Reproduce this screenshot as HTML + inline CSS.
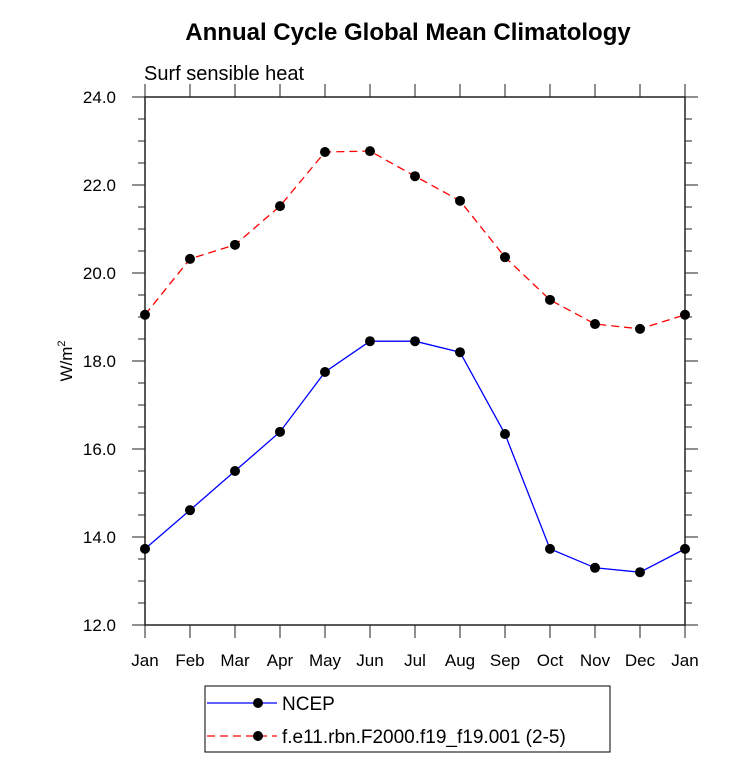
<!DOCTYPE html>
<html><head><meta charset="utf-8"><style>
body{margin:0;background:#fff;}
svg text{font-family:"Liberation Sans",sans-serif;}
</style></head><body>
<svg width="733" height="777" id="c">
<text x="408" y="40" text-anchor="middle" font-size="24" font-weight="bold">Annual Cycle Global Mean Climatology</text>
<text x="144" y="80" font-size="20">Surf sensible heat</text>
<text transform="translate(72,361) rotate(-90)" text-anchor="middle" font-size="17">W/m<tspan font-size="11" dy="-7">2</tspan></text>
<rect x="145" y="97" width="540" height="528" fill="none" stroke="#222" stroke-width="1.5"/>
<g id="axes"></g><g id="series"></g>
<rect x="205" y="686" width="405" height="66" fill="none" stroke="#000"/>
<g>
<line x1="207" y1="703" x2="277" y2="703" stroke="#00f" stroke-width="1.3"/>
<circle cx="258" cy="703" r="5" fill="#000"/>
<text x="282" y="710" font-size="19">NCEP</text></g>
<g>
<line x1="207" y1="736" x2="277" y2="736" stroke="#f00" stroke-width="1.3" stroke-dasharray="8,5"/>
<circle cx="258" cy="736" r="5" fill="#000"/>
<text x="282" y="743" font-size="19">f.e11.rbn.F2000.f19_f19.001 (2-5)</text></g>
</svg>
<script>
const months=["Jan","Feb","Mar","Apr","May","Jun","Jul","Aug","Sep","Oct","Nov","Dec","Jan"];
const yTicks=[12,14,16,18,20,22,24];
const ncep=[13.73,14.61,15.5,16.39,17.75,18.45,18.45,18.2,16.34,13.73,13.3,13.2,13.73];
const model=[19.05,20.32,20.64,21.52,22.75,22.77,22.2,21.64,20.36,19.39,18.84,18.73,19.05];
const NS="http://www.w3.org/2000/svg";
const X=i=>145+i*45, Y=v=>625-(v-12)*44;
const ax=document.getElementById('axes'), se=document.getElementById('series');
function mk(t,a,p){const e=document.createElementNS(NS,t);for(const k in a)e.setAttribute(k,a[k]);p.appendChild(e);return e;}
months.forEach((m,i)=>{
 const x=X(i);
 const t=mk('line',{x1:x,y1:625,x2:x,y2:638,stroke:'#222'},ax);
 
 
 mk('line',{x1:x,y1:97,x2:x,y2:84,stroke:'#222'},ax);
 const l=mk('text',{x:x,y:666,'text-anchor':'middle','font-size':17},ax);l.textContent=m;
 
 
});
for(let v=12;v<=24.001;v+=0.5){
 const y=Y(v), maj=Math.abs(v%2)<1e-6, len=maj?13:7;
 mk('line',{x1:145,y1:y,x2:145-len,y2:y,stroke:'#222'},ax);
 mk('line',{x1:685,y1:y,x2:685+len,y2:y,stroke:'#222'},ax);
}
yTicks.forEach(v=>{
 const l=mk('text',{x:116,y:Y(v)+6,'text-anchor':'end','font-size':17},ax);l.textContent=v.toFixed(1);
 
 
});
function draw(d,col,dash,name){
 const p=mk('polyline',{points:d.map((v,i)=>X(i)+','+Y(v)).join(' '),fill:'none',stroke:col,'stroke-width':1.3,'stroke-dasharray':dash},se);
 
 
 d.forEach((v,i)=>{const c=mk('circle',{cx:X(i),cy:Y(v),r:5,fill:'#000'},se);
 
 });
}
draw(ncep,'#00f','none','ncep');
draw(model,'#f00','8,5','model');
</script>
</body></html>
